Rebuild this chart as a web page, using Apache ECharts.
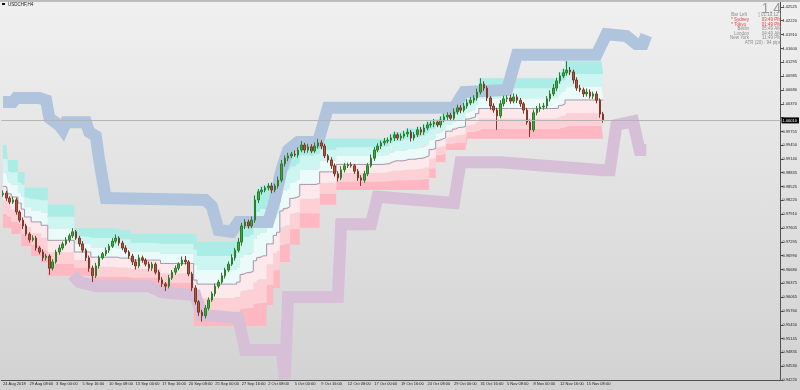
<!DOCTYPE html>
<html><head><meta charset="utf-8">
<script src="https://cdn.jsdelivr.net/npm/echarts@6/dist/echarts.min.js"></script>
<style>html,body{margin:0;padding:0;}#c{width:800px;height:390px;background:linear-gradient(#f0f0f0,#d2d2d2);}</style>
</head><body><div id="c"></div>
<script>
// ---- data ----
const timeLabels = ["24 Aug 2018","29 Aug 08:00","3 Sep 00:00","5 Sep 16:00","10 Sep 08:00","13 Sep 00:00","17 Sep 16:00","20 Sep 08:00","25 Sep 00:00","27 Sep 16:00","2 Oct 08:00","5 Oct 00:00","9 Oct 16:00","12 Oct 08:00","17 Oct 00:00","19 Oct 16:00","24 Oct 08:00","29 Oct 00:00","31 Oct 16:00","5 Nov 08:00","8 Nov 00:00","12 Nov 16:00","15 Nov 08:00"];
const priceTicks = [1.02525,1.02220,1.01910,1.01600,1.01295,1.00985,1.00680,1.00370,0.99755,0.99450,0.99140,0.98835,0.98525,0.98220,0.97910,0.97605,0.97295,0.96990,0.96680,0.96375,0.96065,0.95760,0.95450,0.95145,0.94835,0.94530,0.94220];
const hiddenTick = 1.00065;
const firstOpen = 0.9835;
const closes = [
0.9838,0.9827,0.9818,0.9823,0.9796,0.9778,0.9765,0.9747,0.9734,0.9738,
0.9716,0.9707,0.9694,0.9698,0.9671,0.9685,0.9707,0.9716,0.9725,0.9734,
0.9743,0.9752,0.9738,0.9725,0.9711,0.9694,0.9671,0.9654,0.9676,0.9694,
0.9703,0.9711,0.9720,0.9731,0.9738,0.9727,0.9716,0.9707,0.9698,0.9685,
0.9676,0.9694,0.9689,0.9680,0.9671,0.9680,0.9662,0.9645,0.9636,0.9631,
0.9649,0.9662,0.9671,0.9680,0.9689,0.9685,0.9658,0.9627,0.9596,0.9573,
0.9565,0.9582,0.9600,0.9614,0.9631,0.9640,0.9654,0.9667,0.9680,0.9694,
0.9711,0.9729,0.9765,0.9774,0.9765,0.9778,0.9823,0.9841,0.9845,0.9850,
0.9854,0.9845,0.9854,0.9867,0.9903,0.9916,0.9921,0.9925,0.9923,0.9934,
0.9945,0.9934,0.9941,0.9932,0.9943,0.9950,0.9943,0.9921,0.9912,0.9899,
0.9881,0.9872,0.9890,0.9899,0.9901,0.9899,0.9887,0.9872,0.9867,0.9881,
0.9899,0.9916,0.9934,0.9943,0.9950,0.9954,0.9956,0.9961,0.9968,0.9961,
0.9965,0.9970,0.9974,0.9961,0.9968,0.9979,0.9974,0.9983,0.9990,0.9992,
0.9996,0.9990,1.0001,1.0008,1.0012,1.0005,1.0019,1.0028,1.0023,1.0032,
1.0039,1.0045,1.0050,1.0063,1.0081,1.0072,1.0050,1.0032,1.0023,1.0010,
1.0037,1.0048,1.0050,1.0043,1.0052,1.0045,1.0037,1.0023,0.9996,0.9979,
1.0017,1.0026,1.0030,1.0032,1.0048,1.0059,1.0072,1.0088,1.0099,1.0106,
1.0112,1.0108,1.0090,1.0072,1.0068,1.0059,1.0063,1.0054,1.0059,1.0045,
1.0014,1.0001];
// wick lengths in pips (0.0001)
const wickHi = [
6,5,4,7,5,4,6,5,4,6,5,4,6,5,4,6,5,7,5,6,
5,8,4,5,6,4,5,6,7,5,4,6,5,7,8,4,5,6,4,5,
6,7,5,4,6,5,4,5,6,4,7,5,6,4,8,9,4,5,6,4,
5,7,6,5,6,5,7,5,6,8,5,9,7,6,5,8,10,6,7,5,
6,7,5,8,9,6,7,5,8,6,9,5,7,6,8,9,6,5,4,6,
5,6,8,6,5,6,4,5,6,7,6,8,7,6,5,7,6,8,7,5,
6,7,8,5,6,7,6,8,7,6,7,5,8,7,6,5,8,7,6,7,
8,7,6,8,13,6,5,4,6,5,8,7,6,7,8,6,5,4,5,6,
7,6,8,7,6,8,9,7,8,9,20,7,5,6,7,5,8,6,5,6,
4,5];
const wickLo = [
5,6,5,4,6,5,7,5,6,4,6,5,7,6,15,5,4,6,5,4,
6,5,4,6,5,7,8,14,5,6,4,5,6,4,5,6,5,4,6,7,
8,5,6,5,7,6,5,6,7,11,5,4,6,5,4,6,5,7,6,8,
13,6,5,4,6,5,4,6,5,4,6,5,8,7,6,5,6,7,6,5,
6,7,5,6,5,6,7,5,4,6,5,7,6,5,4,6,7,5,6,7,
6,8,5,6,5,4,6,7,13,6,5,4,6,5,7,6,5,6,7,5,
6,5,7,8,6,5,7,6,5,6,7,5,6,5,7,6,5,6,7,5,
6,5,7,6,5,6,7,8,6,31,5,6,7,6,5,6,7,8,6,16,
5,6,7,6,5,6,5,7,6,5,6,7,8,6,5,7,6,5,6,7,
8,6];
// channel levels: [from bar index, price]
const upperSteps = [[0,0.9945],[2,0.9912],[5,0.9885],[7,0.9850],[14,0.9812],[22,0.9760],[35,0.9756],[39,0.9747],[59,0.9729],[71,0.9738],[72,0.9772],[73,0.9780],[75,0.9786],[76,0.9833],[77,0.9847],[78,0.9855],[80,0.9861],[83,0.9875],[84,0.9912],[85,0.9922],[86,0.9930],[88,0.9933],[89,0.9940],[90,0.9954],[95,0.9959],[115,0.9961],[116,0.9962],[117,0.9969],[118,0.9975],[121,0.9977],[122,0.9982],[125,0.9986],[127,0.9991],[128,0.9997],[129,0.9998],[130,1.0003],[132,1.0009],[133,1.0015],[134,1.0018],[136,1.0027],[137,1.0035],[139,1.0039],[140,1.0047],[141,1.0052],[142,1.0056],[143,1.0071],[144,1.0094],[167,1.0095],[168,1.0107],[169,1.0115],[170,1.0132]];
const lowerSteps = [[0,0.9761],[3,0.9747],[6,0.9720],[9,0.9698],[12,0.9683],[14,0.9654],[27,0.9631],[48,0.9616],[58,0.9542],[80,0.9589],[82,0.9627],[84,0.9685],[87,0.9723],[90,0.9761],[96,0.9812],[101,0.9845],[129,0.9872],[131,0.9907],[134,0.9934],[140,0.9959]];
// outer envelopes: [bar index, price]
const bluePath = [[0,1.0041],[3,1.0041],[4,1.0050],[11,1.0050],[13,1.0045],[14,1.0005],[17,0.9989],[18,0.9979],[19,0.9996],[25,0.9996],[26,0.9974],[28,0.9965],[29,0.9912],[31,0.9827],[61,0.9823],[63,0.9809],[65,0.9756],[69,0.9752],[71,0.9774],[80,0.9774],[82,0.9823],[84,0.9890],[86,0.9934],[89,0.9952],[95,0.9952],[98,1.0028],[136,1.0028],[139,1.0063],[152,1.0068],[155,1.0146],[179,1.0146],[182,1.0192],[188,1.0188],[191,1.0170],[193,1.0170],[194,1.0190]];
const purplePath = [[21,0.9656],[23,0.9640],[28,0.9631],[44,0.9631],[48,0.9617],[58,0.9611],[60,0.9567],[71,0.9560],[73,0.9489],[84,0.9489],[85,0.9426],[86,0.9607],[101,0.9607],[102,0.9769],[111,0.9769],[113,0.9830],[136,0.9816],[138,0.9907],[150,0.9907],[181,0.9889],[183,0.9889],[185,0.9990],[190,0.9998],[192,0.9934],[194,0.9934]];

// ---- build ----
const N = 235;
const cats = Array.from({length:N},(_,i)=> (i%8===0 && timeLabels[i/8]) ? timeLabels[i/8] : '');
function expand(steps,n){const out=[];let k=0;for(let i=0;i<n;i++){while(k+1<steps.length&&steps[k+1][0]<=i)k++;out.push(steps[k][1]);}return out;}
const nb = closes.length;
const U = expand(upperSteps,nb), Lw = expand(lowerSteps,nb);
const bandW = U.map((u,i)=>(u-Lw[i])/6);
const mid = U.map((u,i)=>(u+Lw[i])/2);
const candles = closes.map((c,i)=>{const o=i===0?firstOpen:closes[i-1];return [o,c,Math.min(o,c)-wickLo[i]/10000,Math.max(o,c)+wickHi[i]/10000];});
const lastPrice = closes[nb-1];
const zoneColors = ['#ffb7c2','#fdd0d6','#fde8eb','#eafbfa','#cdf5f1','#a9ede6'];
const FF = 'Liberation Sans';

const series = [
 {type:'line',data:Lw,stack:'ch',step:'middle',symbol:'none',lineStyle:{opacity:0},silent:true,z:1}
].concat(zoneColors.map(c=>({type:'line',data:bandW,stack:'ch',step:'middle',symbol:'none',lineStyle:{opacity:0},areaStyle:{color:c,opacity:1},silent:true,z:1})))
.concat([
 {type:'line',data:bluePath,symbol:'none',silent:true,lineStyle:{color:'#b0c4de',width:12,join:'miter',cap:'butt'},z:2},
 {type:'line',data:purplePath,symbol:'none',silent:true,lineStyle:{color:'#d8bfd8',width:12,join:'miter',cap:'butt'},z:2},
 {type:'line',data:mid,step:'middle',symbol:'none',silent:true,lineStyle:{color:'#a496ad',width:1},z:3},
 {type:'candlestick',data:candles,barWidth:2,silent:true,z:4,
  itemStyle:{color:'#3ea83e',color0:'#b4553a',borderColor:'#2c7d2c',borderColor0:'#7d3a28',borderWidth:1},
  markLine:{symbol:'none',silent:true,animation:false,data:[{yAxis:lastPrice}],
    lineStyle:{color:'#b4b4b4',width:1,type:'solid'},
    label:{show:true,position:'end',distance:1,formatter:lastPrice.toFixed(5),backgroundColor:'#000',color:'#fff',fontSize:4,fontFamily:FF,padding:[1,2,1,1]}}}
]);

const chart = echarts.init(document.getElementById('c'),null,{renderer:'canvas'});
const txt=(x,y,t,fill,size,align)=>({type:'text',x:x,y:y,silent:true,z:100,style:{text:t,fill:fill,font:size+'px "'+FF+'"',textAlign:align||'left',textVerticalAlign:'middle'}});
chart.setOption({
 animation:false,
 backgroundColor:'transparent',
 grid:{left:0,right:17,top:0,bottom:10},
 xAxis:{type:'category',data:cats,boundaryGap:true,
   axisLine:{lineStyle:{color:'#505050',width:1}},
   axisTick:{interval:7,alignWithLabel:true,length:3,lineStyle:{color:'#505050'}},
   axisLabel:{interval:7,align:'left',fontSize:4,fontFamily:FF,color:'#202020',margin:2},
   splitLine:{show:false}},
 yAxis:{type:'value',position:'right',min:0.94220,max:1.02681,
   axisLine:{show:true,lineStyle:{color:'#505050',width:1}},
   axisTick:{show:true,length:3,lineStyle:{color:'#505050'},customValues:priceTicks.concat([hiddenTick])},
   axisLabel:{customValues:priceTicks,formatter:v=>v.toFixed(5),fontSize:4,fontFamily:FF,color:'#202020',margin:2},
   splitLine:{show:false}},
 series:series,
 graphic:[
  {type:'rect',shape:{x:0,y:0,width:800,height:2},style:{fill:'#bdbdbd'},silent:true,z:100},
  {type:'rect',shape:{x:2,y:3,width:3,height:2},style:{fill:'#111'},silent:true,z:100},
  txt(8,4.5,'USDCHF,H4','#202020',4.5),
  txt(781,9,'1.4','#9a9a9a',14,'right'),
  txt(747,15,'Bar Left','#8c8c8c',4.5,'right'),
  txt(781,15,'[ 01:10:12 ]','#8c8c8c',4.5,'right'),
  txt(749,20,'* Sydney','#e84040',4.5,'right'),
  txt(781,20,'03:49 PM','#e84040',4.5,'right'),
  txt(746,24.5,'* Tokyo','#e84040',4.5,'right'),
  txt(781,24.5,'01:49 PM','#e84040',4.5,'right'),
  txt(749,29,'Berlin','#8c8c8c',4.5,'right'),
  txt(781,29,'05:49 AM','#8c8c8c',4.5,'right'),
  txt(749,33.5,'London','#8c8c8c',4.5,'right'),
  txt(781,33.5,'04:49 AM','#8c8c8c',4.5,'right'),
  txt(749,38,'New York','#8c8c8c',4.5,'right'),
  txt(781,38,'11:49 PM','#8c8c8c',4.5,'right'),
  txt(781,43,'ATR (20) : 94 pips','#8c8c8c',4.5,'right')
 ]
});
</script></body></html>
